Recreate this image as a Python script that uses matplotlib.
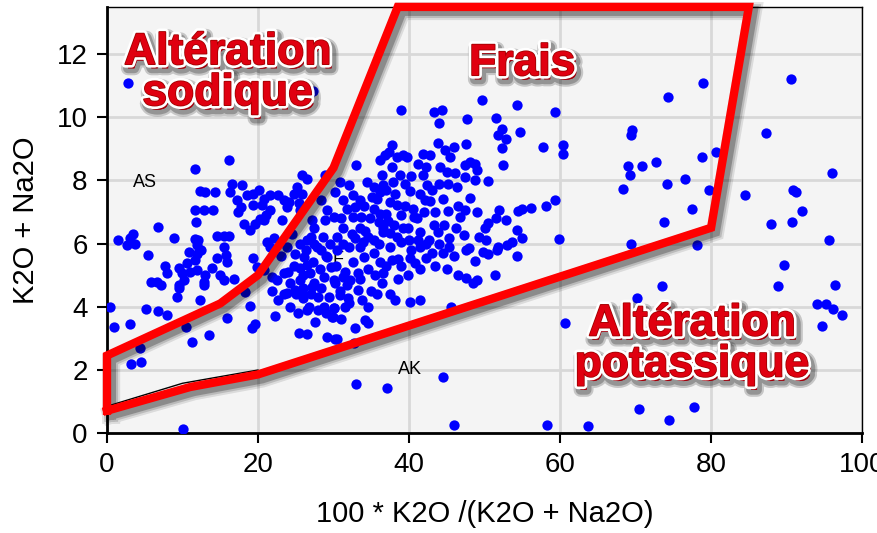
import numpy as np
import matplotlib.pyplot as plt
import matplotlib.patheffects as pe

# ==========================
# Data
# ==========================
pts = [
    # left cluster
    (16.1, 8.66), (11.7, 8.35), (16.6, 7.9), (16.3, 7.64), (17.9, 7.85), (12.3, 7.67), (13.0, 7.62),
    (14.3, 7.62), (11.7, 7.06), (12.9, 7.06), (14.1, 7.06), (11.8, 6.69), (6.75, 6.51), (8.83, 6.18),
    (1.5, 6.1), (3.1, 6.16), (3.4, 6.29), (3.7, 6.0), (2.7, 5.95), (5.4, 5.63), (14.6, 6.23), (15.5, 6.23),
    (16.1, 6.23), (11.6, 6.13), (12.1, 6.1), (11.9, 5.95), (10.8, 5.74), (11.9, 5.68), (12.4, 5.79),
    (15.5, 5.9), (15.7, 5.63), (15.9, 5.42), (14.6, 5.53), (7.7, 5.28), (8.0, 5.05), (6.6, 4.79), (9.5, 5.21),
    (9.9, 5.05), (10.6, 5.37), (11.0, 5.1), (11.9, 5.16), (11.7, 5.47), (13.0, 5.0), (12.8, 4.79), (13.9, 5.21),
    (15.0, 5.0), (15.5, 4.84), (16.8, 4.89), (9.5, 4.68), (10.2, 4.84), (5.8, 4.78),
    (17.2, 7.37), (17.7, 7.16), (17.4, 7.0), (18.5, 7.53), (19.4, 7.58), (20.1, 7.69), (20.8, 7.42),
    (21.6, 7.53), (22.7, 7.53), (23.4, 7.37), (24.1, 7.32), (23.8, 7.16), (19.4, 7.22), (20.5, 7.22),
    (21.6, 7.06), (21.0, 6.9), (20.3, 6.79), (19.6, 6.63), (20.8, 6.74), (19.0, 6.42), (18.1, 6.63),
    (23.2, 6.74), (22.1, 6.16), (21.2, 6.05), (21.6, 5.9),
    (25.8, 8.16), (26.5, 8.06), (25.2, 7.79), (24.7, 7.58), (25.8, 7.58), (25.4, 7.27), (25.6, 7.06),
    (28.9, 8.16), (28.3, 7.37), (29.1, 7.06), (28.9, 6.74), (27.2, 6.74), (27.4, 6.48), (26.5, 6.11),
    (27.4, 6.0), (28.3, 5.79), (29.1, 5.58),
    (24.9, 5.68), (26.1, 5.58), (26.5, 5.32), (25.6, 5.21), (26.9, 5.05), (25.6, 4.84), (27.4, 4.74),
    (28.7, 4.95), (29.6, 5.26), (30.0, 4.84), (23.4, 5.05), (22.5, 4.84), (24.3, 4.74), (19.4, 5.53),
    (19.9, 5.26), (20.8, 5.16), (21.9, 4.95),
    (9.5, 4.58), (9.3, 4.31), (7.1, 4.68), (12.8, 4.68), (12.3, 4.21), (5.2, 3.92), (6.7, 3.86), (7.9, 3.73),
    (0.35, 4.0), (0.9, 3.36), (3.0, 3.44), (10.4, 3.36), (11.3, 2.87), (13.5, 3.1), (15.9, 3.63), (4.4, 2.68),
    (3.2, 2.18), (4.5, 2.26), (10.1, 0.12), (18.3, 4.47), (18.9, 4.03), (19.2, 3.31), (19.6, 3.44),
    (21.9, 4.49), (22.7, 4.21), (22.3, 3.71), (23.8, 4.42), (24.9, 4.53), (25.8, 4.47), (26.0, 4.26),
    (27.2, 4.63), (26.5, 3.89), (27.6, 3.5), (25.4, 3.15), (26.5, 3.12), (29.1, 3.05), (30.0, 3.95),
    (29.8, 3.68), (30.2, 2.97),
    (2.8, 11.09), (27.3, 10.85), (37.3, 8.9), (39.2, 8.8),
    # central cluster
    (39.0, 10.22), (43.3, 10.17), (44.3, 10.22), (44.0, 9.83), (47.7, 9.94), (49.6, 10.54), (51.5, 9.99),
    (54.3, 10.38), (59.3, 10.17), (52.3, 9.64), (51.8, 9.43), (52.9, 9.32), (52.3, 9.03), (54.7, 9.54),
    (57.8, 9.06), (52.4, 8.5), (47.5, 9.17),
    (43.9, 9.2), (44.8, 8.96), (45.9, 9.06), (45.4, 8.75), (44.1, 8.43), (45.0, 8.27), (46.1, 8.22),
    (45.2, 7.9), (46.3, 7.79), (47.4, 8.48), (48.1, 8.59), (48.7, 8.53), (49.0, 8.32), (47.4, 8.12),
    (48.7, 8.01), (50.5, 7.97),
    (37.8, 9.13), (36.8, 8.8), (36.2, 8.64), (38.4, 8.75), (39.7, 8.75), (37.7, 8.43), (36.4, 8.16),
    (38.8, 8.16), (41.9, 8.85), (42.8, 8.8), (41.2, 8.53), (42.3, 8.43), (41.9, 8.16), (42.4, 7.85),
    (40.3, 8.14), (40.1, 7.66), (41.4, 7.58), (42.1, 7.37), (42.8, 7.34),
    (33.0, 8.48), (34.4, 7.95), (35.3, 7.79), (36.6, 7.85), (37.9, 7.95), (35.1, 7.48), (36.2, 7.64),
    (38.1, 7.58), (37.5, 7.32), (38.4, 7.22), (37.0, 6.95), (39.0, 6.9),
    (30.9, 7.95), (32.0, 7.85), (30.2, 7.64), (31.3, 7.37), (32.6, 7.53), (33.5, 7.37), (32.8, 7.16),
    (32.6, 6.85), (33.7, 6.85), (35.3, 7.11), (36.2, 6.95), (36.0, 6.69), (36.6, 6.48),
    (30.0, 6.85), (31.3, 6.48), (30.4, 6.22), (32.8, 6.17), (33.9, 6.06), (35.3, 6.11), (36.6, 6.37),
    (37.5, 6.32), (38.4, 6.22), (39.0, 6.06), (39.9, 6.48), (40.6, 6.85), (41.5, 6.37), (42.6, 6.11),
    (43.3, 6.58), (43.9, 6.37),
    (45.2, 7.03), (46.8, 6.85), (47.4, 7.06), (48.1, 7.43), (47.3, 6.27), (45.3, 6.17), (48.0, 5.85),
    (50.2, 6.11), (50.4, 6.64), (51.5, 6.8), (51.9, 7.06), (52.8, 6.74), (54.4, 7.03), (55.0, 7.11),
    (56.1, 7.13), (54.3, 6.42), (54.9, 6.17), (53.6, 6.06), (53.0, 5.95), (51.8, 5.88), (49.8, 5.74),
    (58.2, 7.19), (59.3, 7.39), (59.8, 6.14), (60.4, 9.12), (60.4, 8.83),
    (32.6, 5.42), (34.0, 5.58), (35.3, 5.69), (36.2, 5.42), (37.7, 5.47), (40.1, 5.53), (40.8, 5.37),
    (42.3, 5.53), (44.5, 5.69), (47.6, 5.79), (48.7, 5.45), (50.5, 5.66), (51.6, 5.79), (54.3, 5.6),
    (36.6, 5.07), (36.4, 4.74), (38.6, 4.89), (39.8, 5.0), (33.3, 5.05), (33.5, 4.89), (32.2, 4.84),
    (33.3, 4.53), (31.3, 4.95), (30.2, 4.74), (30.8, 4.37), (31.9, 4.26), (31.5, 3.98), (30.0, 3.95),
    (29.9, 3.68), (40.1, 4.15), (41.5, 4.21), (48.5, 4.74), (49.0, 4.84), (51.4, 5.0), (45.6, 4.0),
    (32.8, 3.31), (34.2, 3.58), (34.5, 3.47), (30.5, 2.97), (32.7, 2.84),
    # dense core
    (24.5, 6.3), (25.5, 6.0), (26.3, 5.8), (27.0, 6.2), (27.8, 5.9), (28.6, 6.2), (29.5, 6.0), (30.5, 5.8),
    (31.2, 6.0), (24.8, 5.3), (25.9, 5.0), (27.3, 5.4), (28.2, 5.2), (29.0, 5.6), (30.3, 5.3), (31.5, 5.1),
    (26.0, 4.6), (27.0, 4.4), (28.4, 4.6), (29.4, 4.3), (30.8, 4.5), (31.8, 4.7), (23.5, 4.4), (24.2, 4.0),
    (25.3, 3.8), (28.0, 3.9), (29.0, 3.8), (32.0, 5.9), (32.5, 6.3), (33.5, 5.9), (34.2, 6.4), (34.5, 5.2),
    (35.5, 5.0), (35.0, 4.5), (36.0, 6.0), (37.5, 5.9), (38.5, 5.5), (39.2, 6.5), (40.3, 5.8), (41.5, 5.9),
    (42.3, 6.0), (43.0, 5.7), (44.0, 6.0), (45.3, 5.9), (46.0, 5.6),
    (33.5, 6.5), (34.8, 6.8), (35.8, 7.4), (37.0, 7.7), (38.0, 6.6), (39.5, 7.2), (40.5, 7.1), (41.0, 6.8),
    (42.0, 7.0), (43.5, 7.0), (44.5, 7.4), (43.0, 7.7), (44.0, 7.9), (39.5, 7.9), (34.0, 7.2), (31.8, 7.1),
    (31.0, 6.8), (34.5, 6.2), (37.2, 6.7), (40.0, 6.1), (41.2, 6.1), (44.6, 6.6), (46.2, 6.5), (46.5, 7.2),
    (49.0, 7.0), (50.0, 6.5), (49.2, 6.2), (23.0, 5.6), (23.8, 5.9), (24.0, 5.1), (25.0, 4.4), (26.8, 4.0),
    (27.9, 4.3), (28.8, 4.0), (31.0, 3.6), (32.0, 4.1), (33.8, 4.2), (34.5, 4.0), (35.8, 4.4), (37.5, 4.4),
    (38.2, 4.2), (37.0, 5.3), (39.0, 5.3), (41.5, 5.2), (43.5, 5.3), (45.0, 5.2), (46.5, 5.0), (47.5, 4.9),
    # low / right scatter
    (33.0, 1.55), (37.1, 1.41), (44.5, 1.78), (45.9, 0.25), (58.3, 0.25), (63.7, 0.23), (60.7, 3.47),
    (70.2, 4.26), (73.5, 4.66), (88.8, 4.65), (96.4, 4.68), (94.0, 4.07), (95.2, 4.07), (96.2, 3.91),
    (97.3, 3.73), (94.7, 3.39), (70.4, 0.75), (74.4, 0.39), (77.8, 0.83),
    (74.3, 10.64), (78.9, 11.09), (90.6, 11.22), (87.3, 9.51), (69.5, 9.61), (69.4, 9.43), (80.6, 8.91),
    (78.8, 8.75), (69.0, 8.47), (69.3, 8.16), (70.9, 8.45), (72.7, 8.57), (96.0, 8.25), (68.4, 7.74),
    (74.1, 7.9), (76.5, 8.03), (79.7, 7.69), (84.5, 7.55), (90.8, 7.69), (91.2, 7.62), (92.1, 7.03),
    (77.5, 7.08), (73.7, 6.69), (87.9, 6.63), (90.7, 6.67), (95.6, 6.11), (69.4, 5.99), (78.1, 5.95),
    (89.6, 5.32),
]
k_ratio = [p[0] for p in pts]
alkali = [p[1] for p in pts]

# red outline of the "Frais" field
frais_x = [0, 11, 20, 80, 85, 38.5, 30, 20, 15, 0, 0]
frais_y = [0.7, 1.45, 1.85, 6.5, 13.5, 13.5, 8.4, 5.0, 4.1, 2.45, 0.7]

# thin black boundary visible under the red line
black_x = [0, 10, 20]
black_y = [0.84, 1.57, 1.99]

field_labels = ["Altération\nsodique", "Frais", "Altération\npotassique"]
field_pos = [(16.0, 11.4), (55.0, 11.7), (77.5, 2.8)]

small_labels = ["AS", "F", "AK"]
small_pos = [(5.0, 7.95), (30.6, 5.5), (40.1, 2.0)]

# ==========================
# Figure
# ==========================
plt.rcParams['font.family'] = ['Liberation Sans', 'DejaVu Sans']

fig = plt.figure(figsize=(8.77, 5.33), dpi=100)
ax = fig.add_axes([0.122, 0.188, 0.861, 0.799])
ax.set_facecolor('#f4f4f4')

ax.set_xlim(0, 100)
ax.set_ylim(0, 13.5)
ax.set_xticks(np.arange(0, 101, 20))
ax.set_yticks(np.arange(0, 13, 2))
ax.grid(True, color='#d8d8d8', linewidth=2)
ax.set_axisbelow(True)

ax.tick_params(labelsize=20, length=7, width=1.5, direction='out', pad=7)
for side in ['left', 'bottom']:
    ax.spines[side].set_linewidth(2)
for side in ['top', 'right']:
    ax.spines[side].set_linewidth(1)

ax.set_xlabel("100 * K2O /(K2O + Na2O)", fontsize=21, labelpad=16)
ax.set_ylabel("K2O + Na2O", fontsize=21, labelpad=12)

ax.scatter(k_ratio, alkali, s=55, color='#0000ff', linewidths=0, zorder=3)

for lab, (x, y) in zip(small_labels, small_pos):
    ax.text(x, y, lab, fontsize=13, ha='center', va='center', zorder=2)

ax.plot(black_x, black_y, color='black', linewidth=1, zorder=4)
ax.plot(frais_x, frais_y, color='#ff0000', linewidth=6, solid_joinstyle='miter',
        clip_on=False, zorder=5,
        path_effects=[pe.SimpleLineShadow(offset=(3, -3), shadow_color='black', alpha=0.10, linewidth=13),
                      pe.SimpleLineShadow(offset=(3, -3), shadow_color='black', alpha=0.15, linewidth=10),
                      pe.SimpleLineShadow(offset=(3, -3), shadow_color='black', alpha=0.25, linewidth=7),
                      pe.Normal()])

for lab, (x, y) in zip(field_labels, field_pos):
    ax.text(x, y, lab, fontsize=32, fontweight='bold', color='#e00010', ha='center', va='center',
            linespacing=1.0, zorder=6,
            path_effects=[pe.Stroke(offset=(2, -3), linewidth=10, foreground='#00000030'),
                          pe.Stroke(offset=(2, -3), linewidth=7, foreground='#00000040'),
                          pe.Stroke(linewidth=5, foreground='white'),
                          pe.Stroke(linewidth=1.2, foreground='#a00000'),
                          pe.Normal()])

fig.savefig("out.png", dpi=100)
